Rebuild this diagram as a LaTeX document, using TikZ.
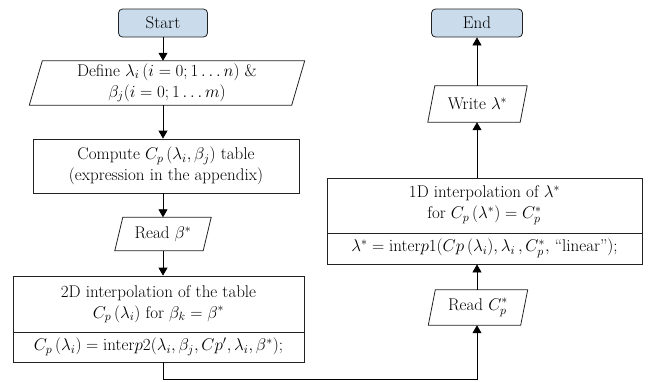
\RequirePackage{fix-cm}
\documentclass[tikz,border=0pt]{standalone}
\usetikzlibrary{arrows.meta,calc}
\definecolor{termfill}{HTML}{CADCEC}
\definecolor{linecol}{HTML}{222222}
\newcommand\parabox[2]{\draw[boxline] ([xshift=-#2]#1.south west) -- ([xshift=#2]#1.north west) -- ([xshift=#2]#1.north east) -- ([xshift=-#2]#1.south east) -- cycle;}
\begin{document}
\begin{tikzpicture}[x=1pt,y=-1pt,
  font=\fontsize{17}{21}\selectfont,
  boxline/.style={draw=linecol,line width=0.8pt},
  term/.style={boxline,fill=termfill,rounded corners=4pt,minimum width=#1,minimum height=28pt,inner sep=0pt},
  procbox/.style={boxline,rectangle,align=center,inner sep=0pt,minimum width=#1},
  iobox/.style={rectangle,align=center,inner sep=0pt,minimum width=#1},
  arr/.style={draw=black,line width=0.8pt,-{Triangle[length=8pt,width=9pt]}}]
\useasboundingbox (0,0) rectangle (649,381);
% left column
\node[term=89pt] (start) at (163,23) {Start};
\node[iobox=262pt,minimum height=44pt] (define) at (167,83) {Define $\lambda_i\,(i=0;1\ldots n)$ \&\\ $\beta_j(i=0;1\ldots m)$};
\parabox{define}{6.5pt}
\node[procbox=266pt,minimum height=54pt] (compute) at (166,166) {Compute $C_p\,(\lambda_i, \beta_j)$ table\\(expression in the appendix)};
\node[iobox=88pt,minimum height=33pt] (readb) at (163,234) {Read $\beta^*$};
\parabox{readb}{4pt}
\node[procbox=291pt,minimum height=56pt] (inter2) at (158.5,304) {2D interpolation of the table\\ $C_p\,(\lambda_i)$ for $\beta_k = \beta^*$};
\node[procbox=291pt,minimum height=30pt] (code2) at (158.5,347) {$C_p\,(\lambda_i) = \mathrm{inter}p2(\lambda_i, \beta_j, Cp', \lambda_i, \beta^*)$;};
% right column
\node[term=91pt] (endn) at (477,23) {End};
\node[iobox=92pt,minimum height=36pt] (write) at (477.5,104) {Write $\lambda^*$};
\parabox{write}{3.5pt}
\node[procbox=315pt,minimum height=55pt] (inter1) at (484.5,205.5) {1D interpolation of $\lambda^*$\\ for $C_p\,(\lambda^*) = C_p^*$};
\node[procbox=315pt,minimum height=31pt] (code1) at (484.5,248.5) {$\lambda^* = \mathrm{inter}p1(Cp\,(\lambda_i), \lambda_i\,, C_p^*,$ ``linear''$)$;};
\node[iobox=92pt,minimum height=35pt] (readcp) at (478,307.5) {Read $C_p^*$};
\parabox{readcp}{3.5pt}
\coordinate (bottomy) at (0,379.5);
% connectors
\draw[arr] (start.south) -- (define.north -| start);
\draw[arr] (define.south -| start) -- (compute.north -| start);
\draw[arr] (compute.south -| start) -- (readb.north -| start);
\draw[arr] (readb.south -| start) -- (inter2.north -| start);
\draw[arr] (code2.south -| start) -- (start |- bottomy) -| (readcp.south -| endn);
\draw[arr] (readcp.north -| endn) -- (code1.south -| endn);
\draw[arr] (inter1.north -| endn) -- (write.south -| endn);
\draw[arr] (write.north -| endn) -- (endn.south);
\end{tikzpicture}
\end{document}
